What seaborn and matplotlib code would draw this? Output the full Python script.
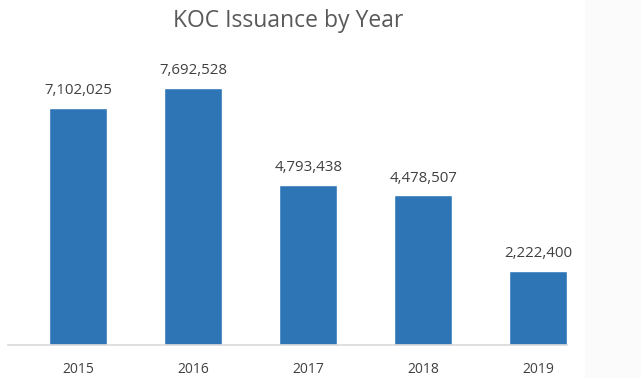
import matplotlib
matplotlib.use("Agg")
import matplotlib.pyplot as plt
import seaborn as sns
import pandas as pd
from matplotlib.patches import Rectangle

years = ["2015", "2016", "2017", "2018", "2019"]
values = [7102025, 7692528, 4793438, 4478507, 2222400]

sns.set_theme(style="white")
plt.rcParams['font.family'] = ['Open Sans', 'DejaVu Sans']

W, H = 641, 378
fig = plt.figure(figsize=(W/100, H/100), dpi=100)
fig.patches.append(Rectangle((585/W, 0), 1, 1, transform=fig.transFigure,
                             facecolor="#fbfbfb", edgecolor="none", zorder=-1))

ymax = 9.0e6
px_per_unit = 33.4 / 1e6
ax_h = ymax * px_per_unit
ax_bottom = (H - 345) / H
ax = fig.add_axes([8/W, ax_bottom, (567-8)/W, ax_h/H])

df = pd.DataFrame({"year": years, "value": values})
sns.barplot(data=df, x="year", y="value", color="#2E75B6", saturation=1,
            width=0.505, ax=ax)
ax.set_xlim(-0.61, 4.25)
ax.set_ylim(0, ymax)
ax.set_facecolor("none")
for s in ["top", "right", "left"]:
    ax.spines[s].set_visible(False)
ax.spines["bottom"].set_color("#d9d9d9")
ax.spines["bottom"].set_linewidth(1.2)
ax.set_yticks([])
ax.set_xlabel("")
ax.set_ylabel("")
ax.tick_params(axis="x", length=0, pad=12, labelsize=10, labelcolor="#404040")

for i, v in enumerate(values):
    ax.annotate(f"{v:,}", (i, v), xytext=(0, 7), textcoords="offset points",
                ha="center", va="bottom", fontsize=10.8, color="#404040")

fig.text(288/W, 1 - 21/H, "KOC Issuance by Year", ha="center", va="center",
         fontsize=16.5, color="#595959")

fig.savefig("out.png", dpi=100)
